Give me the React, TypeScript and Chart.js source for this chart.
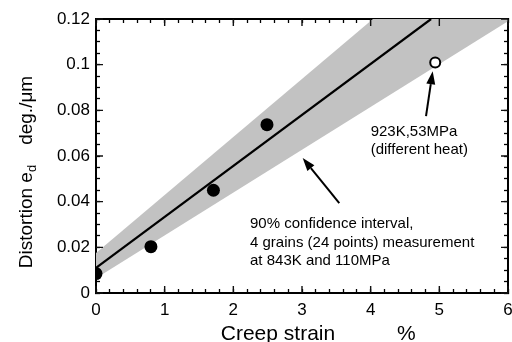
import React, { useEffect, useRef } from "react";
import { Chart, registerables } from "chart.js";

Chart.register(...registerables);

// Measured grains (843 K, 110 MPa)
const STRAIN = [0, 0.8, 1.71, 2.49];
const DISTORTION = [0.0085, 0.0203, 0.045, 0.0737];

// Different heat (923 K, 53 MPa)
const OTHER_HEAT_STRAIN = [4.94];
const OTHER_HEAT_DISTORTION = [0.101];

// Regression line
const FIT_STRAIN = [0, 4.88];
const FIT_DISTORTION = [0.011, 0.12];

// 90% confidence band edges
const BAND_STRAIN = [0, 6];
const BAND_LOWER = [0.0065, 0.119];
const BAND_UPPER = [0.0175, 0.17];

const X_TICK_LABELS = ["0", "1", "2", "3", "4", "5", "6"];
const Y_TICK_LABELS = ["0", "0.02", "0.04", "0.06", "0.08", "0.1", "0.12"];

// minor tick spacing and minor ticks per major interval
const X_MINOR = 0.2;
const X_MINOR_PER_MAJOR = 5;
const Y_MINOR = 0.005;
const Y_MINOR_PER_MAJOR = 4;

const FONT = "'Liberation Sans', Arial, Helvetica, sans-serif";

const toXY = (xs: number[], ys: number[]) => xs.map((x, i) => ({ x, y: ys[i] }));

const minorTicks = (count: number, step: number) =>
  Array.from({ length: count + 1 }, (_, i) => ({ value: +(i * step).toFixed(6) }));

function arrow(ctx: CanvasRenderingContext2D, x0: number, y0: number, x1: number, y1: number) {
  const ang = Math.atan2(y1 - y0, x1 - x0);
  const head = 13;
  const half = 4.5;
  const bx = x1 - head * Math.cos(ang);
  const by = y1 - head * Math.sin(ang);
  ctx.beginPath();
  ctx.moveTo(x0, y0);
  ctx.lineTo(bx, by);
  ctx.stroke();
  ctx.beginPath();
  ctx.moveTo(x1, y1);
  ctx.lineTo(bx + half * Math.sin(ang), by - half * Math.cos(ang));
  ctx.lineTo(bx - half * Math.sin(ang), by + half * Math.cos(ang));
  ctx.closePath();
  ctx.fill();
}

// Longer inward marks at the major ticks on all four sides
const majorTickPlugin = {
  id: "majorTicks",
  afterDraw(chart: any) {
    const ctx: CanvasRenderingContext2D = chart.ctx;
    const a = chart.chartArea;
    const xs = chart.scales.x;
    const ys = chart.scales.y;
    ctx.save();
    ctx.strokeStyle = "#101010";
    ctx.lineWidth = 1.4;
    ctx.beginPath();
    for (let i = 0; i < X_TICK_LABELS.length; i++) {
      const px = xs.getPixelForValue(i);
      ctx.moveTo(px, a.bottom);
      ctx.lineTo(px, a.bottom - 7);
      ctx.moveTo(px, a.top);
      ctx.lineTo(px, a.top + 7);
    }
    for (let j = 0; j < Y_TICK_LABELS.length; j++) {
      const py = ys.getPixelForValue(j * Y_MINOR * Y_MINOR_PER_MAJOR);
      ctx.moveTo(a.left, py);
      ctx.lineTo(a.left + 7, py);
      ctx.moveTo(a.right, py);
      ctx.lineTo(a.right - 7, py);
    }
    ctx.stroke();
    ctx.restore();
  },
};

// Axis titles, notes and arrows
const notesPlugin = {
  id: "notes",
  afterDraw(chart: any) {
    const ctx: CanvasRenderingContext2D = chart.ctx;
    const a = chart.chartArea;
    const xs = chart.scales.x;
    const ys = chart.scales.y;
    const X = (v: number) => xs.getPixelForValue(v);
    const Y = (v: number) => ys.getPixelForValue(v);

    ctx.save();
    ctx.fillStyle = "black";
    ctx.strokeStyle = "black";

    // y-axis title
    ctx.save();
    ctx.translate(32, (a.top + a.bottom) / 2 + 16);
    ctx.rotate(-Math.PI / 2);
    ctx.textBaseline = "alphabetic";
    ctx.textAlign = "left";
    const main = "Distortion e";
    const sub = "d";
    const unit = "deg./\u03bcm";
    ctx.font = `19px ${FONT}`;
    const w1 = ctx.measureText(main).width;
    const w3 = ctx.measureText(unit).width;
    ctx.font = `13px ${FONT}`;
    const w2 = ctx.measureText(sub).width;
    const gap = 20;
    let cx = -(w1 + w2 + gap + w3) / 2;
    ctx.font = `19px ${FONT}`;
    ctx.fillText(main, cx, 0);
    cx += w1;
    ctx.font = `13px ${FONT}`;
    ctx.fillText(sub, cx, 4);
    cx += w2 + gap;
    ctx.font = `19px ${FONT}`;
    ctx.fillText(unit, cx, 0);
    ctx.restore();

    // x-axis title
    ctx.font = `21px ${FONT}`;
    ctx.textAlign = "center";
    ctx.textBaseline = "alphabetic";
    ctx.fillText("Creep strain", X(2.65), 340);
    ctx.fillText("%", X(4.52), 340);

    // notes
    ctx.font = `15px ${FONT}`;
    ctx.textAlign = "left";
    ctx.textBaseline = "middle";
    ctx.fillText("923K,53MPa", X(4.0), Y(0.0705));
    ctx.fillText("(different heat)", X(4.0), Y(0.0626));
    ctx.fillText("90% confidence interval,", X(2.243), Y(0.0303));
    ctx.fillText("4 grains (24 points) measurement", X(2.243), Y(0.0221));
    ctx.fillText("at 843K and 110MPa", X(2.243), Y(0.0139));

    ctx.lineWidth = 2;
    arrow(ctx, X(4.806), Y(0.0775), X(4.903), Y(0.0971));
    arrow(ctx, X(3.543), Y(0.0394), X(3.01), Y(0.0591));
    ctx.restore();
  },
};

const frameBorder = { display: true, color: "#000", width: 2 };
const inwardGrid = {
  display: true,
  drawOnChartArea: false,
  drawTicks: true,
  tickLength: -4,
  tickColor: "#000",
  tickWidth: 1.3,
};

export default function App() {
  const ref = useRef<HTMLCanvasElement | null>(null);

  useEffect(() => {
    if (!ref.current) return;
    const xCount = (X_TICK_LABELS.length - 1) * X_MINOR_PER_MAJOR;
    const yCount = (Y_TICK_LABELS.length - 1) * Y_MINOR_PER_MAJOR;
    const chart = new Chart(ref.current, {
      type: "scatter",
      data: {
        datasets: [
          {
            label: "measured",
            data: toXY(STRAIN, DISTORTION),
            backgroundColor: "#000",
            borderColor: "#000",
            pointRadius: 6.5,
            pointHoverRadius: 6.5,
            borderWidth: 0,
            showLine: false,
            order: 0,
          },
          {
            label: "different heat",
            data: toXY(OTHER_HEAT_STRAIN, OTHER_HEAT_DISTORTION),
            backgroundColor: "#fff",
            borderColor: "#000",
            pointRadius: 5,
            borderWidth: 2,
            showLine: false,
            order: 1,
          },
          {
            label: "fit",
            data: toXY(FIT_STRAIN, FIT_DISTORTION),
            borderColor: "#000",
            borderWidth: 2.2,
            pointRadius: 0,
            showLine: true,
            fill: false,
            order: 2,
          },
          {
            label: "band lower",
            data: toXY(BAND_STRAIN, BAND_LOWER),
            borderWidth: 0,
            pointRadius: 0,
            showLine: true,
            fill: false,
            order: 3,
          },
          {
            label: "band upper",
            data: toXY(BAND_STRAIN, BAND_UPPER),
            borderWidth: 0,
            backgroundColor: "#c2c2c2",
            pointRadius: 0,
            showLine: true,
            fill: "-1",
            order: 4,
          },
        ],
      },
      options: {
        animation: false,
        responsive: false,
        devicePixelRatio: 1,
        layout: { autoPadding: false, padding: { left: 0, top: 19, right: 4, bottom: 0 } },
        plugins: {
          legend: { display: false },
          tooltip: { enabled: false },
        },
        scales: {
          x: {
            type: "linear",
            position: "bottom",
            min: 0,
            max: 6,
            grid: inwardGrid,
            border: frameBorder,
            afterBuildTicks: (s: any) => {
              s.ticks = minorTicks(xCount, X_MINOR);
            },
            ticks: {
              autoSkip: false,
              maxRotation: 0,
              padding: 11,
              color: "#000",
              font: { family: FONT, size: 17 },
              callback: (_v: any, i: number) =>
                i % X_MINOR_PER_MAJOR === 0 ? X_TICK_LABELS[i / X_MINOR_PER_MAJOR] : "",
            },
            afterFit: (s: any) => {
              s.height = 49;
              s.paddingLeft = 0;
              s.paddingRight = 0;
            },
          },
          xTop: {
            type: "linear",
            position: "top",
            min: 0,
            max: 6,
            grid: inwardGrid,
            border: frameBorder,
            afterBuildTicks: (s: any) => {
              s.ticks = minorTicks(xCount, X_MINOR);
            },
            ticks: { display: false },
            afterFit: (s: any) => {
              s.height = 0;
              s.paddingLeft = 0;
              s.paddingRight = 0;
            },
          },
          y: {
            type: "linear",
            position: "left",
            min: 0,
            max: 0.12,
            grid: inwardGrid,
            border: frameBorder,
            afterBuildTicks: (s: any) => {
              s.ticks = minorTicks(yCount, Y_MINOR);
            },
            ticks: {
              autoSkip: false,
              padding: 10,
              color: "#000",
              font: { family: FONT, size: 17 },
              callback: (_v: any, i: number) =>
                i % Y_MINOR_PER_MAJOR === 0 ? Y_TICK_LABELS[i / Y_MINOR_PER_MAJOR] : "",
            },
            afterFit: (s: any) => {
              s.width = 96;
              s.paddingTop = 0;
              s.paddingBottom = 0;
            },
          },
          yRight: {
            type: "linear",
            position: "right",
            min: 0,
            max: 0.12,
            grid: inwardGrid,
            border: frameBorder,
            afterBuildTicks: (s: any) => {
              s.ticks = minorTicks(yCount, Y_MINOR);
            },
            ticks: { display: false },
            afterFit: (s: any) => {
              s.width = 0;
              s.paddingTop = 0;
              s.paddingBottom = 0;
            },
          },
        },
      },
      plugins: [majorTickPlugin, notesPlugin],
    });
    return () => chart.destroy();
  }, []);

  return (
    <div style={{ position: "fixed", left: 0, top: 0, width: 512, height: 342, background: "#fff" }}>
      <canvas ref={ref} width={512} height={342} />
    </div>
  );
}
